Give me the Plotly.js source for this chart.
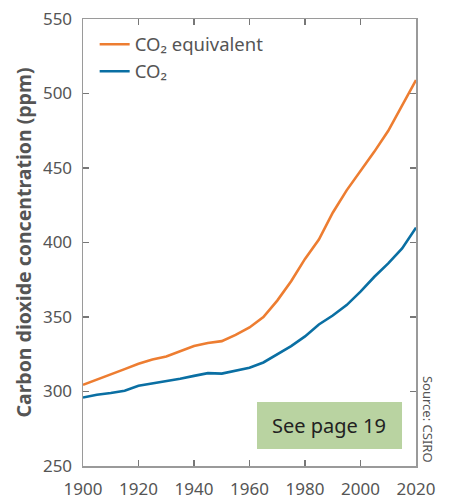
<!DOCTYPE html>
<html>
<head>
<meta charset="utf-8">
<script src="https://cdn.plot.ly/plotly-3.0.1.min.js"></script>
<style>html,body{margin:0;padding:0;background:#fff}#chart{width:451px;height:500px}</style>
</head>
<body>
<div id="chart"></div>
<script>
const years = [1900,1905,1910,1915,1920,1925,1930,1935,1940,1945,1950,1955,1960,1965,1970,1975,1980,1985,1990,1995,2000,2005,2010,2015,2020];
const co2eq = [304.5,308,311,315,318.6,321.5,323.5,327,330.5,332.5,333.8,338,343,350,361,374,389,402,420,435,448,461,475,492,509];
const co2 = [296,297.8,299,300.5,303.8,305.4,306.6,308.5,310.5,312.3,312,313.8,316,319.5,325,330.5,337,345,351,358,367,377,386,396,410];
const seriesNames = ["CO₂ equivalent", "CO₂"];
const xTicks = [1900,1920,1940,1960,1980,2000,2020];
const yTicks = [250,300,350,400,450,500,550];

const FONT = "Noto Sans, Open Sans, sans-serif";
const GREY = "#555555";

const traces = [
  {x: years, y: co2eq, name: seriesNames[0], mode: "lines", line: {color: "#ED7D31", width: 2.6}},
  {x: years, y: co2, name: seriesNames[1], mode: "lines", line: {color: "#0A6FA3", width: 2.6}}
];

const axisCommon = {
  showline: true, linecolor: "#9a9a9a", linewidth: 1.5, mirror: "ticks",
  ticks: "inside", ticklen: 6, tickcolor: "#777", tickwidth: 1.2,
  showgrid: false, zeroline: false,
  tickfont: {family: FONT, size: 17, color: GREY}
};

const layout = {
  width: 451, height: 500,
  margin: {l: 83, r: 35, t: 19, b: 34},
  paper_bgcolor: "#fff", plot_bgcolor: "#fff",
  showlegend: true,
  legend: {x: 0.035, y: 0.985, xanchor: "left", yanchor: "top", bgcolor: "rgba(0,0,0,0)",
           font: {family: FONT, size: 18.5, color: GREY}, traceorder: "normal"},
  xaxis: Object.assign({}, axisCommon, {range: [1900, 2020], tickvals: xTicks, ticklabelstandoff: 7}),
  yaxis: Object.assign({}, axisCommon, {range: [250, 550], tickvals: yTicks, ticklabelstandoff: 6,
    title: {text: "<b>Carbon dioxide concentration (ppm)</b>", font: {family: FONT, size: 19.5, color: GREY}, standoff: 6}}),
  shapes: [
    {type: "rect", xref: "paper", yref: "paper", x0: 0.5225, x1: 0.958, y0: 0.038, y1: 0.143,
     fillcolor: "#B9D3A1", line: {width: 0}, layer: "above"}
  ],
  annotations: [
    {xref: "paper", yref: "paper", x: 0.74, y: 0.0905, text: "See page 19", showarrow: false,
     font: {family: FONT, size: 20, color: "#222"}, xanchor: "center", yanchor: "middle"},
    {xref: "paper", yref: "paper", x: 1.036, y: 0.103, text: "Source: CSIRO", showarrow: false, textangle: 90,
     font: {family: FONT, size: 13, color: GREY}, xanchor: "center", yanchor: "middle"}
  ]
};

Plotly.newPlot("chart", traces, layout, {displayModeBar: false, staticPlot: true});
</script>
</body>
</html>
